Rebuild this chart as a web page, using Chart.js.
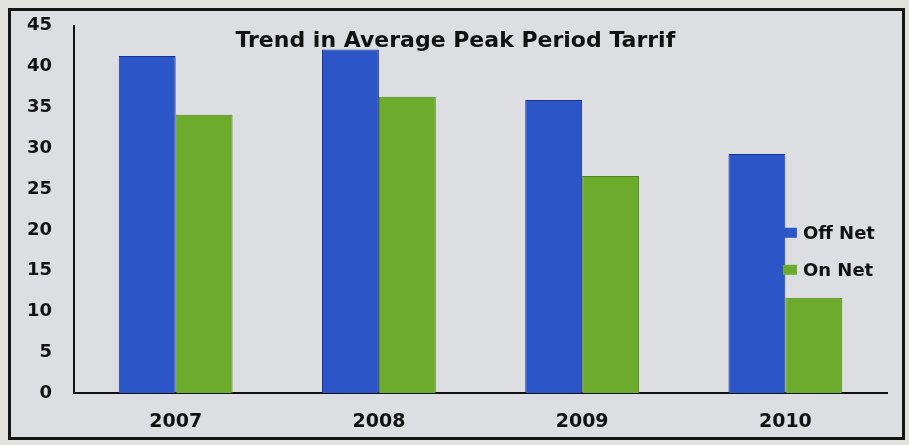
<!DOCTYPE html>
<html>
<head>
<meta charset="utf-8">
<script src="https://cdn.jsdelivr.net/npm/chart.js@4.4.0/dist/chart.umd.min.js"></script>
<style>
  html, body { margin: 0; padding: 0; background: #e2e2dc; }
  #frame {
    position: absolute; left: 8px; top: 8px;
    width: 891px; height: 426px;
    border: 3px solid #151515;
    background: #dcdee2;
    overflow: hidden;
  }
  #chart { display: block; position: absolute; left: -22px; top: -18px; }
</style>
</head>
<body>
<div id="frame"><canvas id="chart" width="913" height="461"></canvas></div>
<script>
// data
const years = ['2007', '2008', '2009', '2010'];
const offNet = [41.3, 42.1, 35.9, 29.3];
const onNet = [34.1, 36.3, 26.6, 11.7];
const yTicks = [0, 5, 10, 15, 20, 25, 30, 35, 40, 45];
const chartTitle = 'Trend in Average Peak Period Tarrif';

const FONT = '"DejaVu Sans", sans-serif';

// title drawn over the plot, like the slide
const titleOverlay = {
  id: 'titleOverlay',
  afterDatasetsDraw(chart) {
    const { ctx, chartArea } = chart;
    ctx.save();
    ctx.font = 'bold 22px ' + FONT;
    ctx.fillStyle = '#111';
    ctx.textAlign = 'center';
    ctx.textBaseline = 'alphabetic';
    ctx.fillText(chartTitle, chartArea.left + (chartArea.right - chartArea.left) * 0.469, chartArea.top + 21);
    ctx.restore();
  }
};

// legend sitting inside the plot on the right
const sideLegend = {
  id: 'sideLegend',
  afterDatasetsDraw(chart) {
    const { ctx, chartArea } = chart;
    const x = chartArea.left + (chartArea.right - chartArea.left) * 0.872;
    let y = chartArea.top + 207;
    ctx.save();
    ctx.font = 'bold 18px ' + FONT;
    ctx.textBaseline = 'middle';
    chart.data.datasets.forEach(ds => {
      ctx.fillStyle = ds.backgroundColor;
      ctx.fillRect(x, y - 5, 14, 10);
      ctx.fillStyle = '#111';
      ctx.fillText(ds.label, x + 20, y + 2);
      y += 37;
    });
    ctx.restore();
  }
};

new Chart(document.getElementById('chart'), {
  type: 'bar',
  data: {
    labels: years,
    datasets: [
      { label: 'Off Net', data: offNet, backgroundColor: '#2c56c8', borderColor: '#1b3390', borderWidth: 1 },
      { label: 'On Net', data: onNet, backgroundColor: '#6cab2b', borderColor: '#4e8a1c', borderWidth: 1 }
    ]
  },
  options: {
    responsive: false,
    animation: false,
    layout: { padding: { top: 5, right: 15, left: 16, bottom: 4 } },
    datasets: { bar: { categoryPercentage: 0.56, barPercentage: 1 } },
    plugins: { legend: { display: false }, title: { display: false }, tooltip: { enabled: false } },
    scales: {
      x: {
        grid: { display: false, drawTicks: false },
        border: { color: '#111', width: 2 },
        ticks: { color: '#111', padding: 17, font: { family: FONT, size: 19, weight: 'bold' } }
      },
      y: {
        min: 0, max: 45,
        afterBuildTicks(axis) { axis.ticks = yTicks.map(v => ({ value: v })); },
        grid: { display: false, drawTicks: false },
        border: { color: '#111', width: 2 },
        ticks: { color: '#111', padding: 22, font: { family: FONT, size: 18, weight: 'bold' } }
      }
    }
  },
  plugins: [titleOverlay, sideLegend]
});
</script>
</body>
</html>
